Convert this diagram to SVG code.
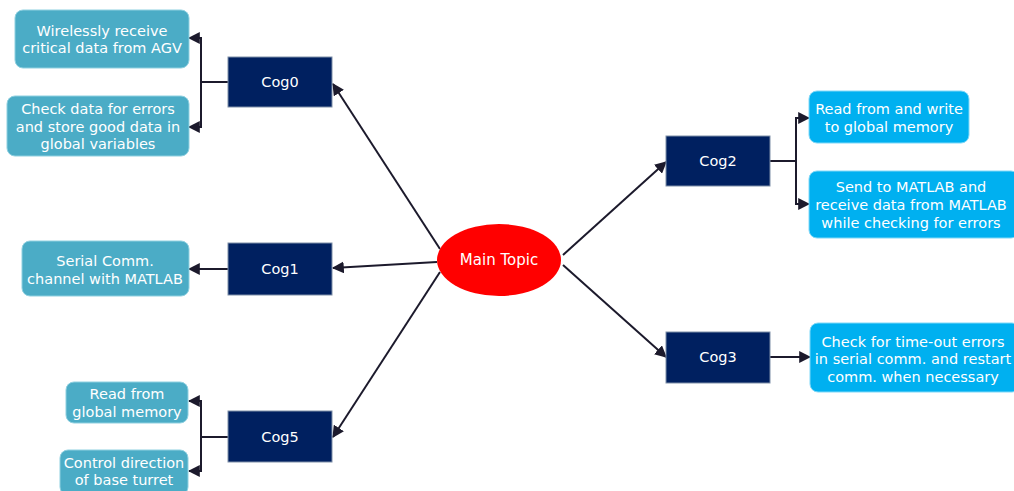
<svg xmlns="http://www.w3.org/2000/svg" width="1014" height="491" viewBox="0 0 1014 491">
<style>
.cog{fill:#002060;stroke:#7f8fa8;stroke-width:1}
.lb{fill:#4bacc6;stroke:#8fd0e0;stroke-width:1}
.rb{fill:#00b0f0;stroke:#7fd8f8;stroke-width:1}
text{font-family:"DejaVu Sans",Verdana,sans-serif;fill:#ffffff;text-anchor:middle}
.t{font-size:14.5px}
.c{font-size:14.5px}
.m{font-size:15px}
.ln{fill:none;stroke:#1c1a2c;stroke-width:2}
</style>
<defs>
<marker id="ah" viewBox="0 0 10 10" refX="9" refY="5" markerWidth="6" markerHeight="6" orient="auto" markerUnits="strokeWidth">
<path d="M0,0 L10,5 L0,10 z" fill="#1c1a2c"/>
</marker>
</defs>
<rect width="1014" height="491" fill="#ffffff"/>
<g id="connectors">
<path class="ln" d="M440,249 L333,84" marker-end="url(#ah)"/>
<path class="ln" d="M437,262 L333,268" marker-end="url(#ah)"/>
<path class="ln" d="M440,272 L333,437" marker-end="url(#ah)"/>
<path class="ln" d="M563,255 L666,162" marker-end="url(#ah)"/>
<path class="ln" d="M563,265 L666,357" marker-end="url(#ah)"/>
<path class="ln" d="M228,82 L201,82"/>
<path class="ln" d="M201,127 L201,38 L189,38" marker-end="url(#ah)"/>
<path class="ln" d="M201,82 L201,127 L189,127" marker-end="url(#ah)"/>
<path class="ln" d="M228,269 L189,269" marker-end="url(#ah)"/>
<path class="ln" d="M228,437 L201,437"/>
<path class="ln" d="M201,437 L201,401 L189,401" marker-end="url(#ah)"/>
<path class="ln" d="M201,437 L201,471 L189,471" marker-end="url(#ah)"/>
<path class="ln" d="M770,161 L796,161"/>
<path class="ln" d="M796,161 L796,118 L809,118" marker-end="url(#ah)"/>
<path class="ln" d="M796,161 L796,204 L809,204" marker-end="url(#ah)"/>
<path class="ln" d="M770,357 L810,357" marker-end="url(#ah)"/>
</g>
<g id="main">
<ellipse cx="499" cy="260" rx="62" ry="36" fill="#ff0000"/>
<text class="m" x="499" y="265">Main Topic</text>
</g>
<g id="cog0">
<rect class="cog" x="228" y="57" width="104" height="50"/>
<text class="c" x="280" y="87">Cog0</text>
</g>
<g id="cog1">
<rect class="cog" x="228" y="243" width="104" height="52"/>
<text class="c" x="280" y="274">Cog1</text>
</g>
<g id="cog5">
<rect class="cog" x="228" y="411" width="104" height="51"/>
<text class="c" x="280" y="442">Cog5</text>
</g>
<g id="cog2">
<rect class="cog" x="666" y="136" width="104" height="50"/>
<text class="c" x="718" y="166">Cog2</text>
</g>
<g id="cog3">
<rect class="cog" x="666" y="332" width="104" height="51"/>
<text class="c" x="718" y="362">Cog3</text>
</g>
<g id="n-wireless">
<rect class="lb" x="15" y="10" width="174" height="58" rx="8"/>
<text class="t" x="102" y="36">Wirelessly receive</text>
<text class="t" x="102" y="53">critical data from AGV</text>
</g>
<g id="n-check">
<rect class="lb" x="7" y="96" width="182" height="60" rx="8"/>
<text class="t" x="98" y="114">Check data for errors</text>
<text class="t" x="98" y="132">and store good data in</text>
<text class="t" x="98" y="149">global variables</text>
</g>
<g id="n-serial">
<rect class="lb" x="22" y="241" width="167" height="55" rx="8"/>
<text class="t" x="105" y="266">Serial Comm.</text>
<text class="t" x="105" y="284">channel with MATLAB</text>
</g>
<g id="n-readglobal">
<rect class="lb" x="66" y="382" width="122" height="41" rx="8"/>
<text class="t" x="127" y="399">Read from</text>
<text class="t" x="127" y="417">global memory</text>
</g>
<g id="n-control">
<rect class="lb" x="60" y="450" width="128" height="45" rx="8"/>
<text class="t" x="124" y="468">Control direction</text>
<text class="t" x="124" y="485">of base turret</text>
</g>
<g id="n-readwrite">
<rect class="rb" x="809" y="91" width="160" height="52" rx="8"/>
<text class="t" x="889" y="114">Read from and write</text>
<text class="t" x="889" y="132">to global memory</text>
</g>
<g id="n-send">
<rect class="rb" x="809" y="171" width="210" height="67" rx="8"/>
<text class="t" x="911" y="192">Send to MATLAB and</text>
<text class="t" x="911" y="210">receive data from MATLAB</text>
<text class="t" x="911" y="228">while checking for errors</text>
</g>
<g id="n-timeout">
<rect class="rb" x="810" y="323" width="210" height="69" rx="8"/>
<text class="t" x="913" y="347">Check for time-out errors</text>
<text class="t" x="913" y="364">in serial comm. and restart</text>
<text class="t" x="913" y="382">comm. when necessary</text>
</g>
</svg>
